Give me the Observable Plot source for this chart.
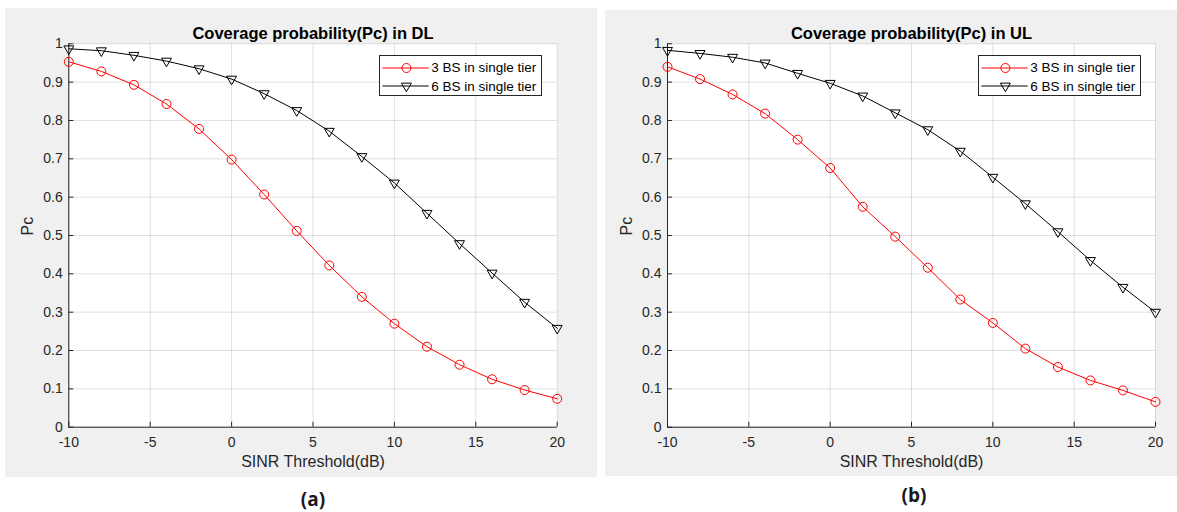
<!DOCTYPE html>
<html><head><meta charset="utf-8">
<script src="https://cdn.jsdelivr.net/npm/d3@7"></script>
<script src="https://cdn.jsdelivr.net/npm/@observablehq/plot@0.6"></script>
<style>
body{margin:0;background:#fff;}
#wrap{position:relative;width:1177px;height:512px;overflow:hidden;font-family:"Liberation Sans",Arial,sans-serif;}
.panel{position:absolute;background:#f0f0f0;}
.panel svg{display:block;}
.legend{position:absolute;background:#fff;border:1px solid #262626;box-sizing:border-box;font-size:13.5px;color:#000;}
.legend .row{position:absolute;left:0;width:200px;height:18px;display:flex;align-items:center;white-space:nowrap;}
.legend .row svg{flex:0 0 auto;display:block;}
.sub{position:absolute;font-family:"Open Sans",sans-serif;font-weight:bold;font-size:19px;line-height:1;color:#1a1a1a;transform:translate(-50%,-50%);}
</style></head><body><div id="wrap"></div>
<script>
// ---- data ----
const sinr = [-10, -8, -6, -4, -2, 0, 2, 4, 6, 8, 10, 12, 14, 16, 18, 20];
const dl3 = [0.953, 0.928, 0.893, 0.843, 0.778, 0.698, 0.607, 0.512, 0.422, 0.340, 0.270, 0.210, 0.163, 0.125, 0.097, 0.074];
const dl6 = [0.987, 0.982, 0.970, 0.955, 0.935, 0.908, 0.870, 0.826, 0.772, 0.706, 0.637, 0.558, 0.479, 0.402, 0.326, 0.258];
const ul3 = [0.940, 0.908, 0.868, 0.818, 0.750, 0.676, 0.575, 0.497, 0.416, 0.333, 0.272, 0.205, 0.157, 0.122, 0.096, 0.066];
const ul6 = [0.983, 0.975, 0.965, 0.950, 0.923, 0.897, 0.864, 0.820, 0.776, 0.720, 0.652, 0.583, 0.510, 0.435, 0.365, 0.300];
const xTicks = [-10, -5, 0, 5, 10, 15, 20];
const yTicks = [0, 0.1, 0.2, 0.3, 0.4, 0.5, 0.6, 0.7, 0.8, 0.9, 1];
const seriesNames = ["3 BS in single tier", "6 BS in single tier"];
const titles = ["Coverage probability(Pc) in DL", "Coverage probability(Pc) in UL"];
const xLabel = "SINR Threshold(dB)";
const yLabel = "Pc";
const panelLabels = ["(a)", "(b)"];

const FONT = '"Liberation Sans", Arial, sans-serif';
const AX = "#262626";
const RED = "#ff0000";
const BLK = "#000000";

function makePanel(title, s3, s6, b) {
  const p3 = sinr.map((x, i) => ({x, y: s3[i]}));
  const p6 = sinr.map((x, i) => ({x, y: s6[i]}));
  return Plot.plot({
    width: b.w, height: b.h,
    marginLeft: b.ml, marginRight: b.mr, marginTop: b.mt, marginBottom: b.mb,
    style: {background: "#f0f0f0", fontFamily: FONT, color: AX, overflow: "visible"},
    x: {domain: [-10, 20]},
    y: {domain: [0, 1]},
    marks: [
      Plot.frame({fill: "#fff", stroke: null}),
      Plot.gridX({ticks: xTicks, stroke: "#000", strokeOpacity: 0.12}),
      Plot.gridY({ticks: yTicks, stroke: "#000", strokeOpacity: 0.12}),
      Plot.axisX({ticks: xTicks, tickSize: -5, tickPadding: 15, fontSize: 14, label: null, stroke: AX, fill: AX, tickFormat: d => String(d)}),
      Plot.axisY({ticks: yTicks, tickSize: -5, tickPadding: 11, fontSize: 14, label: null, stroke: AX, fill: AX, tickFormat: d => String(+d.toFixed(1))}),
      Plot.ruleY([0], {stroke: AX}),
      Plot.ruleX([-10], {stroke: AX}),
      Plot.line(p3, {x: "x", y: "y", stroke: RED, strokeWidth: 1}),
      Plot.dot(p3, {x: "x", y: "y", r: 4.5, symbol: "circle", stroke: RED, fill: "none", strokeWidth: 1}),
      Plot.line(p6, {x: "x", y: "y", stroke: BLK, strokeWidth: 1}),
      Plot.dot(p6, {x: "x", y: "y", r: 3.7, symbol: "triangle", rotate: 180, stroke: BLK, fill: "none", strokeWidth: 1}),
      Plot.text([title], {text: d => d, frameAnchor: "top", dy: -16.3, fontSize: 16.5, fontWeight: "bold", fill: "#000"}),
      Plot.text([xLabel], {text: d => d, frameAnchor: "bottom", dy: 40, fontSize: 16, fill: AX}),
      Plot.text([yLabel], {text: d => d, frameAnchor: "left", dx: -41, rotate: -90, fontSize: 16, fill: AX})
    ]
  });
}

function makeLegend(l) {
  const div = document.createElement("div");
  div.className = "legend";
  Object.assign(div.style, {left: l.x + "px", top: l.y + "px", width: l.w + "px", height: l.h + "px"});
  const styles = [
    {stroke: RED, sym: "circle", r: 4.5, rot: 0},
    {stroke: BLK, sym: "triangle", r: 3.7, rot: 180}
  ];
  const rowsY = [2.7, 21];
  seriesNames.forEach((name, i) => {
    const row = document.createElement("div");
    row.className = "row";
    row.style.top = rowsY[i] + "px";
    const st = styles[i];
    const sym = st.sym === "circle" ? d3.symbolCircle : d3.symbolTriangle;
    const path = d3.symbol(sym, Math.PI * st.r * st.r)();
    row.innerHTML = `<svg width="51" height="18"><line x1="2.4" x2="48.7" y1="9" y2="9" stroke="${st.stroke}" stroke-width="1"/><path d="${path}" transform="translate(26.4,9) rotate(${st.rot})" fill="none" stroke="${st.stroke}"/></svg><span>${name}</span>`;
    div.appendChild(row);
  });
  return div;
}

const wrap = document.getElementById("wrap");
const boxes = [
  {left: 5, top: 8, w: 592, h: 469, ml: 63.3, mr: 40.3, mt: 35.3, mb: 50.3},
  {left: 605, top: 10, w: 572, h: 466, ml: 62, mr: 22, mt: 33.3, mb: 49.3}
];
const data = [[dl3, dl6], [ul3, ul6]];
const legends = [{x: 379.3, y: 55, w: 163, h: 41}, {x: 978.3, y: 55, w: 163, h: 41}];
const subPos = [{x: 313, y: 499}, {x: 914, y: 495}];

boxes.forEach((b, i) => {
  const div = document.createElement("div");
  div.className = "panel";
  Object.assign(div.style, {left: b.left + "px", top: b.top + "px", width: b.w + "px", height: b.h + "px"});
  div.appendChild(makePanel(titles[i], data[i][0], data[i][1], b));
  wrap.appendChild(div);
  wrap.appendChild(makeLegend(legends[i]));
  const s = document.createElement("div");
  s.className = "sub";
  s.textContent = panelLabels[i];
  Object.assign(s.style, {left: subPos[i].x + "px", top: subPos[i].y + "px"});
  wrap.appendChild(s);
});
</script></body></html>
